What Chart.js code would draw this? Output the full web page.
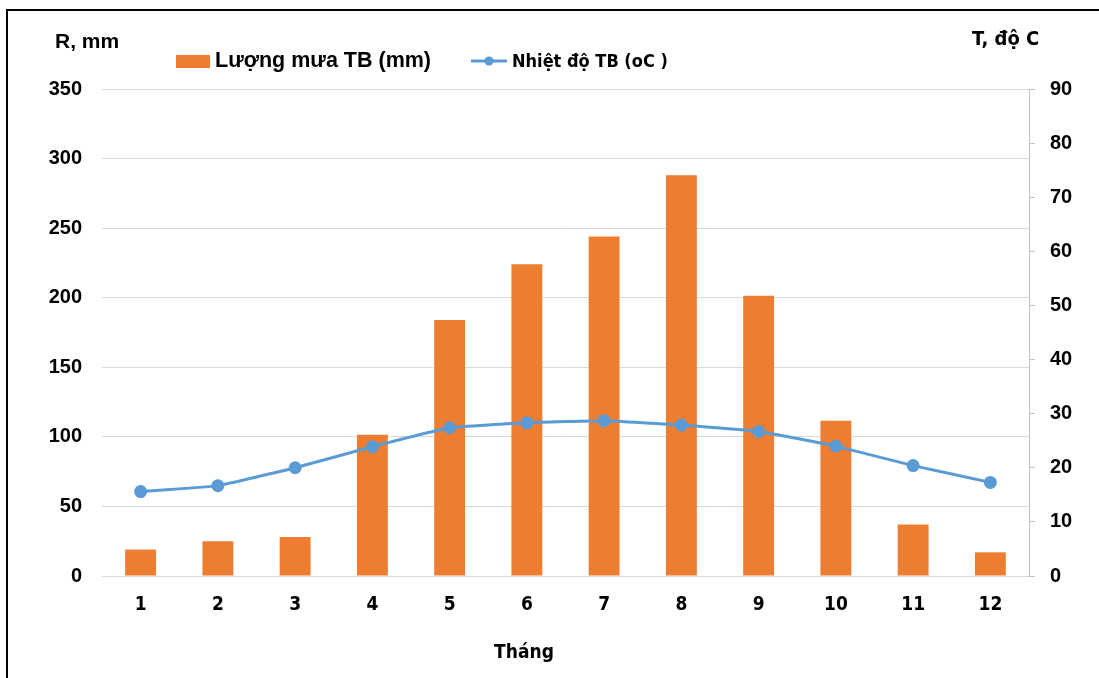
<!DOCTYPE html>
<html>
<head>
<meta charset="utf-8">
<script src="https://cdn.jsdelivr.net/npm/chart.js@4/dist/chart.umd.min.js"></script>
<style>
html,body{margin:0;padding:0;background:#fff;}
#wrap{width:1099px;height:678px;position:relative;}
canvas{display:block;}
</style>
</head>
<body>
<div id="wrap"><canvas id="c" width="1099" height="678"></canvas></div>
<script>
const months = ['1','2','3','4','5','6','7','8','9','10','11','12'];
const rainfall = [19, 25, 28, 101.5, 184, 224, 244, 288, 201.5, 111.5, 37, 17];
const temperature = [15.6, 16.7, 20.0, 23.9, 27.4, 28.3, 28.7, 27.9, 26.7, 24.0, 20.4, 17.3];
const rainLabel = 'Lượng mưa TB (mm)';
const tempLabel = 'Nhiệt độ TB (oC )';
const leftTitle = 'R, mm';
const rightTitle = 'T, độ C';
const xTitle = 'Tháng';

const ORANGE = '#ED7D31';
const BLUE = '#5B9BD5';
const ARIAL = '"Liberation Sans", Arial, sans-serif';
const NARROW = '"Liberation Sans Narrow", "DejaVu Sans Condensed", "Liberation Sans", sans-serif';

const extras = {
  id: 'extras',
  afterDraw(chart) {
    const ctx = chart.ctx;
    ctx.save();
    // frame
    ctx.strokeStyle = '#000';
    ctx.lineWidth = 2;
    ctx.beginPath();
    ctx.moveTo(7, 678);
    ctx.lineTo(7, 10);
    ctx.lineTo(1099, 10);
    ctx.stroke();
    ctx.fillStyle = '#000';
    ctx.textBaseline = 'middle';
    // axis titles
    ctx.textAlign = 'left';
    ctx.font = 'bold 21px ' + ARIAL;
    ctx.fillText(leftTitle, 55, 42);
    ctx.font = 'bold 20px ' + NARROW;
    ctx.fillText(rightTitle, 972, 40);
    ctx.textAlign = 'center';
    ctx.font = 'bold 19px ' + NARROW;
    ctx.fillText(xTitle, 524, 653);
    // legend
    ctx.fillStyle = ORANGE;
    ctx.fillRect(176, 55, 34, 13);
    ctx.fillStyle = '#000';
    ctx.textAlign = 'left';
    ctx.font = 'bold 21.5px ' + ARIAL;
    ctx.fillText(rainLabel, 215, 61);
    ctx.strokeStyle = BLUE;
    ctx.lineWidth = 3;
    ctx.beginPath();
    ctx.moveTo(471, 61);
    ctx.lineTo(507, 61);
    ctx.stroke();
    ctx.fillStyle = BLUE;
    ctx.beginPath();
    ctx.arc(489, 61, 4.5, 0, Math.PI * 2);
    ctx.fill();
    ctx.fillStyle = '#000';
    ctx.font = 'bold 18px ' + NARROW;
    ctx.fillText(tempLabel, 512, 62);
    ctx.restore();
  }
};

new Chart(document.getElementById('c'), {
  type: 'bar',
  data: {
    labels: months,
    datasets: [
      {
        type: 'line',
        label: tempLabel,
        data: temperature,
        yAxisID: 'yR',
        borderColor: BLUE,
        backgroundColor: BLUE,
        borderWidth: 3,
        pointRadius: 5,
        pointHoverRadius: 5,
        pointBackgroundColor: BLUE,
        pointBorderColor: BLUE,
        tension: 0.1,
        order: 0
      },
      {
        type: 'bar',
        label: rainLabel,
        data: rainfall,
        yAxisID: 'yL',
        backgroundColor: ORANGE,
        borderWidth: 0,
        categoryPercentage: 1,
        barPercentage: 0.4,
        order: 1
      }
    ]
  },
  options: {
    responsive: false,
    animation: false,
    layout: { padding: { top: 89, left: 0, right: 0, bottom: 0 } },
    plugins: { legend: { display: false }, tooltip: { enabled: false } },
    scales: {
      x: {
        offset: true,
        grid: { display: false, drawTicks: false },
        border: { display: true, color: '#D9D9D9', width: 1 },
        ticks: { color: '#000', padding: 18, font: { family: NARROW, size: 19, weight: 'bold' } },
        afterFit(s) { s.height = 102; }
      },
      yL: {
        position: 'left',
        min: 0, max: 350,
        ticks: { stepSize: 50, color: '#000', padding: 20, font: { family: ARIAL, size: 20, weight: 'bold' } },
        grid: { color: '#D9D9D9', lineWidth: 1, drawTicks: false },
        border: { display: false },
        afterFit(s) { s.width = 102; }
      },
      yR: {
        position: 'right',
        min: 0, max: 90,
        ticks: { stepSize: 10, color: '#000', padding: 15, font: { family: ARIAL, size: 20, weight: 'bold' } },
        grid: { drawOnChartArea: false, drawTicks: true, tickLength: 6, color: '#BFBFBF' },
        border: { display: true, color: '#BFBFBF', width: 1 },
        afterFit(s) { s.width = 70; }
      }
    }
  },
  plugins: [extras]
});
</script>
</body>
</html>
